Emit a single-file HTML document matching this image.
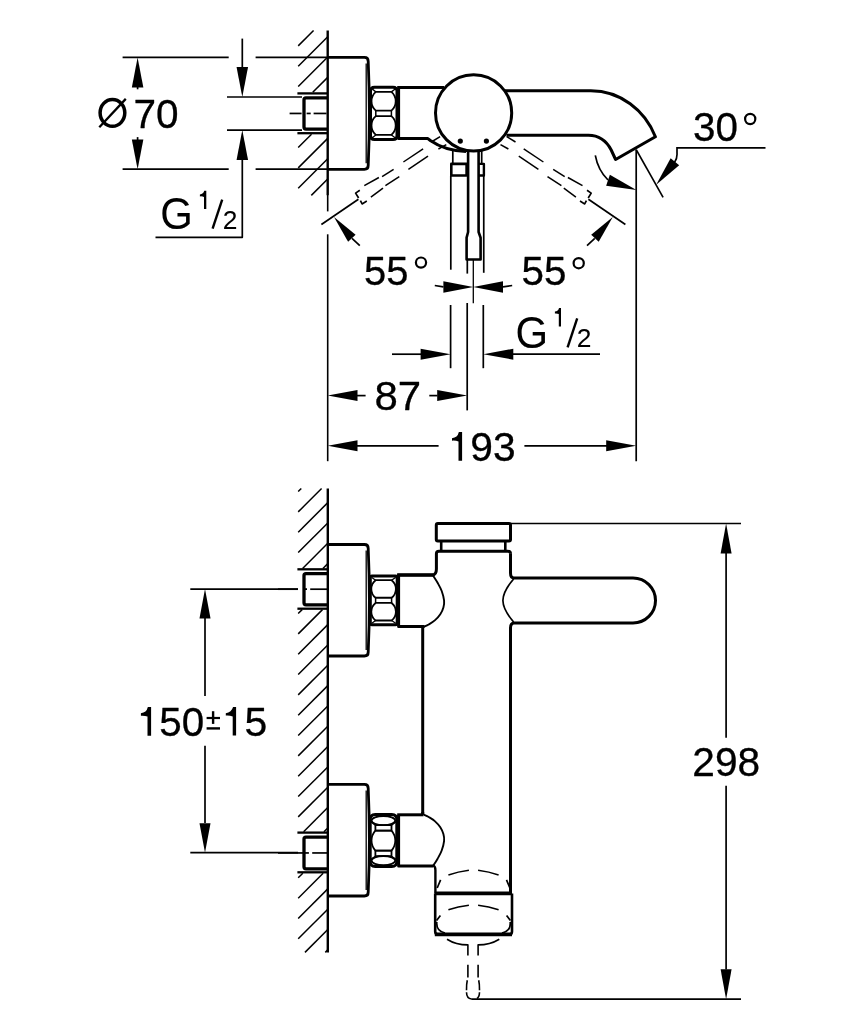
<!DOCTYPE html>
<html><head><meta charset="utf-8"><style>
html,body{margin:0;padding:0;background:#fff;width:854px;height:1024px;overflow:hidden}
svg{display:block;will-change:transform}
svg text{font-family:"Liberation Sans",sans-serif}
</style></head><body>
<svg width="854" height="1024" viewBox="0 0 854 1024">
<rect width="854" height="1024" fill="#fff"/>
<g stroke="#000" fill="none" stroke-linejoin="round">
<line x1="327.7" y1="30.5" x2="327.7" y2="195.2" stroke-width="2.4" />
<line x1="327.7" y1="195" x2="327.7" y2="211.4" stroke-width="1.6" />
<line x1="327.7" y1="234.3" x2="327.7" y2="461.2" stroke-width="1.6" />
<line x1="298.2" y1="45.87" x2="313.57" y2="30.5" stroke-width="1.5" />
<line x1="298.2" y1="66.2" x2="327.7" y2="36.7" stroke-width="1.5" />
<line x1="298.2" y1="86.53" x2="327.7" y2="57.03" stroke-width="1.5" />
<line x1="312.76" y1="92.3" x2="327.7" y2="77.36" stroke-width="1.5" />
<line x1="298.2" y1="147.52" x2="311.52" y2="134.2" stroke-width="1.5" />
<line x1="298.2" y1="167.85" x2="327.7" y2="138.35" stroke-width="1.5" />
<line x1="298.2" y1="188.18" x2="327.7" y2="158.68" stroke-width="1.5" />
<line x1="311.31" y1="195.4" x2="327.7" y2="179.01" stroke-width="1.5" />
<line x1="297.4" y1="93.4" x2="327.7" y2="93.4" stroke-width="2.3" />
<line x1="297.4" y1="133.2" x2="327.7" y2="133.2" stroke-width="2.3" />
<path d="M327.7,97.8 H306 Q304,97.8 304,99.8 V127.1 Q304,129.1 306,129.1 H327.7" stroke-width="3.3" />
<line x1="289.6" y1="113.45" x2="301.6" y2="113.45" stroke-width="1.7" />
<line x1="306.6" y1="113.45" x2="310.7" y2="113.45" stroke-width="1.7" />
<line x1="313.6" y1="113.45" x2="326.5" y2="113.45" stroke-width="1.7" />
<path d="M327.7,57.4 H364.4 Q368.2,57.4 368.2,61.199999999999996 Q370.6,113.35000000000001 368.2,165.5 Q368.2,169.3 364.4,169.3 H327.7" stroke-width="2.8" />
<line x1="366.2" y1="63.4" x2="366.2" y2="163.3" stroke-width="1.3" />
<path d="M375.80,91.87 H391.40 A12.36,12.36 0 0 1 391.40,110.62 H375.80 A12.36,12.36 0 0 1 375.80,91.87 Z" stroke-width="1.8" />
<path d="M375.80,116.18 H391.40 A12.36,12.36 0 0 1 391.40,134.93 H375.80 A12.36,12.36 0 0 1 375.80,116.18 Z" stroke-width="1.8" />
<line x1="375.8" y1="110.62" x2="375.8" y2="116.18" stroke-width="1.5" />
<line x1="391.4" y1="110.62" x2="391.4" y2="116.18" stroke-width="1.5" />
<line x1="372" y1="88.8" x2="375.8" y2="91.87" stroke-width="1.3" />
<line x1="395.5" y1="88.8" x2="391.4" y2="91.87" stroke-width="1.3" />
<line x1="372" y1="138" x2="375.8" y2="134.93" stroke-width="1.3" />
<line x1="395.5" y1="138" x2="391.4" y2="134.93" stroke-width="1.3" />
<path d="M374.5,87.3 H393 Q397,87.3 397,91.3 V135.5 Q397,139.5 393,139.5 H374.5 Q370.5,139.5 370.5,135.5 V91.3 Q370.5,87.3 374.5,87.3 Z" stroke-width="3" />
<path d="M398.6,87.4 V138.6 H427.9 L430.3,140.5 Q445,150.7 466,151.5" stroke-width="3" />
<line x1="397.2" y1="87.4" x2="444" y2="87.4" stroke-width="3" />
<circle cx="473.6" cy="112.9" r="38.1" stroke-width="3"/>
<circle cx="460.3" cy="141.1" r="2.6" fill="#000" stroke="none"/>
<circle cx="486.4" cy="141.1" r="2.6" fill="#000" stroke="none"/>
<path d="M504,90.8 H590.8 C620,90.8 645,110 655.4,136.8 L615.6,159.5 L611.2,150 C607,142 600,135.3 588.4,135.3 H506.5" stroke-width="3" />
<line x1="452.8" y1="150" x2="452.8" y2="163" stroke-width="1.7" />
<path d="M451.3,163.9 H466.6 V175.5 H451.3 Z" stroke-width="2.6" />
<line x1="450.8" y1="176" x2="450.8" y2="269.7" stroke-width="1.7" />
<path d="M468.1,151.5 V232 L466.6,237.7 V259.5 H480.6 V237.7 L478.6,232 V151.5" stroke-width="2.6" />
<line x1="481.7" y1="151" x2="481.7" y2="163" stroke-width="1.7" />
<path d="M478.6,163.9 H483.9 V175.5 H478.6" stroke-width="2.4" />
<line x1="483.75" y1="176" x2="483.75" y2="272.8" stroke-width="1.7" />
<line x1="467.3" y1="259.5" x2="467.3" y2="273.6" stroke-width="1.7" />
<line x1="473.3" y1="259.5" x2="473.3" y2="303.2" stroke-width="1.3" />
<line x1="434.8" y1="285.5" x2="443.4" y2="286.9" stroke-width="1.7" />
<polygon points="473.3,286.9 443.4,281.15 443.4,292.65" fill="#000" stroke="none"/>
<polygon points="473.3,286.9 503,292.65 503,281.15" fill="#000" stroke="none"/>
<line x1="503" y1="286.9" x2="512.2" y2="285.5" stroke-width="1.7" />
<line x1="450.6" y1="305" x2="450.6" y2="368.2" stroke-width="1.7" />
<line x1="483.3" y1="305" x2="483.3" y2="368.2" stroke-width="1.7" />
<line x1="467.2" y1="303" x2="467.2" y2="410.4" stroke-width="1.7" />
<line x1="392" y1="354.2" x2="421" y2="354.2" stroke-width="1.7" />
<polygon points="450.6,354.2 420.6,348.7 420.6,359.7" fill="#000" stroke="none"/>
<polygon points="483.3,354.2 513.3,359.7 513.3,348.7" fill="#000" stroke="none"/>
<line x1="513" y1="354.2" x2="600" y2="354.2" stroke-width="1.7" />
<polygon points="327.7,395.6 357.5,401.1 357.5,390.1" fill="#000" stroke="none"/>
<line x1="357" y1="395.6" x2="365.6" y2="395.6" stroke-width="1.7" />
<line x1="429.3" y1="395.6" x2="437.5" y2="395.6" stroke-width="1.7" />
<polygon points="467.2,395.6 437.2,390.1 437.2,401.1" fill="#000" stroke="none"/>
<polygon points="327.7,445.8 357.5,451.3 357.5,440.3" fill="#000" stroke="none"/>
<line x1="357" y1="445.8" x2="438.6" y2="445.8" stroke-width="1.7" />
<line x1="524.4" y1="445.8" x2="607" y2="445.8" stroke-width="1.7" />
<polygon points="636.2,445.8 606.2,440.3 606.2,451.3" fill="#000" stroke="none"/>
<line x1="636.2" y1="149.7" x2="636.2" y2="461.2" stroke-width="1.7" />
<line x1="636.2" y1="149.7" x2="663.1" y2="197.3" stroke-width="1.7" />
<polygon points="656.2,184.7 679.17,165.17 670.63,158.23" fill="#000" stroke="none"/>
<path d="M674.6,162.2 Q677.4,158.5 677,153 V147.8 H765.5" stroke-width="1.7" stroke-linejoin="miter"/>
<path d="M595.3,155.3 Q598,170 608,180" stroke-width="1.7" />
<polygon points="636.4,189.9 609.86,174.76 606.14,185.64" fill="#000" stroke="none"/>
<line x1="122.6" y1="57.4" x2="228.7" y2="57.4" stroke-width="1.7" />
<line x1="255.6" y1="57.4" x2="327.7" y2="57.4" stroke-width="1.7" />
<line x1="122.6" y1="169.2" x2="228.7" y2="169.2" stroke-width="1.7" />
<line x1="255.6" y1="169.2" x2="327.7" y2="169.2" stroke-width="1.7" />
<polygon points="137.6,57.4 131.85,87.4 143.35,87.4" fill="#000" stroke="none"/>
<line x1="137.6" y1="87" x2="137.6" y2="89.3" stroke-width="1.7" />
<polygon points="137.6,169.2 143.35,139.6 131.85,139.6" fill="#000" stroke="none"/>
<line x1="137.6" y1="137.1" x2="137.6" y2="140" stroke-width="1.7" />
<line x1="242.3" y1="38.6" x2="242.3" y2="67.5" stroke-width="1.7" />
<polygon points="242.3,97 248.05,67 236.55,67" fill="#000" stroke="none"/>
<line x1="227" y1="97" x2="302" y2="97" stroke-width="1.7" />
<line x1="227" y1="130.1" x2="302" y2="130.1" stroke-width="1.7" />
<polygon points="242.3,130.1 236.55,160.1 248.05,160.1" fill="#000" stroke="none"/>
<path d="M242.3,159 V237.3 H155.5" stroke-width="1.7" />
<g><line x1="423.1" y1="148.9" x2="403.4" y2="162" stroke-width="1.5"/><line x1="393.6" y1="169.3" x2="382.1" y2="176.7" stroke-width="1.5"/><line x1="378.9" y1="177.5" x2="364.3" y2="185.6" stroke-width="1.5"/><line x1="428" y1="156.2" x2="408.4" y2="169.3" stroke-width="1.5"/><line x1="399.3" y1="176.7" x2="385.4" y2="185.7" stroke-width="1.5"/><line x1="383" y1="188.2" x2="370.9" y2="197.1" stroke-width="1.5"/><line x1="440.1" y1="136.7" x2="431.3" y2="142" stroke-width="1.5"/><line x1="446.3" y1="144.6" x2="438.4" y2="149" stroke-width="1.5"/><path d="M359.8,190.3 L355.6,193.1 L358.6,198 M360.4,200.6 L362.1,203.9 L366.8,201.1" stroke-width="1.7"/><line x1="321.4" y1="224.5" x2="358.4" y2="199.2" stroke-width="1.7"/><polygon points="334,217 348.1,241.8 355.6,234.8" fill="#000" stroke="none"/><line x1="352" y1="238.3" x2="359.8" y2="245.6" stroke-width="1.7"/></g>
<g transform="translate(946.8,0) scale(-1,1)"><line x1="423.1" y1="148.9" x2="403.4" y2="162" stroke-width="1.5"/><line x1="393.6" y1="169.3" x2="382.1" y2="176.7" stroke-width="1.5"/><line x1="378.9" y1="177.5" x2="364.3" y2="185.6" stroke-width="1.5"/><line x1="428" y1="156.2" x2="408.4" y2="169.3" stroke-width="1.5"/><line x1="399.3" y1="176.7" x2="385.4" y2="185.7" stroke-width="1.5"/><line x1="383" y1="188.2" x2="370.9" y2="197.1" stroke-width="1.5"/><line x1="440.1" y1="136.7" x2="431.3" y2="142" stroke-width="1.5"/><line x1="446.3" y1="144.6" x2="438.4" y2="149" stroke-width="1.5"/><path d="M359.8,190.3 L355.6,193.1 L358.6,198 M360.4,200.6 L362.1,203.9 L366.8,201.1" stroke-width="1.7"/><line x1="321.4" y1="224.5" x2="358.4" y2="199.2" stroke-width="1.7"/><polygon points="334,217 348.1,241.8 355.6,234.8" fill="#000" stroke="none"/><line x1="352" y1="238.3" x2="359.8" y2="245.6" stroke-width="1.7"/></g>
<line x1="327.8" y1="488.5" x2="327.8" y2="952.4" stroke-width="2.4" />
<line x1="298.2" y1="491.57" x2="301.27" y2="488.5" stroke-width="1.5" />
<line x1="298.2" y1="511.9" x2="321.6" y2="488.5" stroke-width="1.5" />
<line x1="298.2" y1="532.23" x2="327.8" y2="502.63" stroke-width="1.5" />
<line x1="298.2" y1="552.56" x2="327.8" y2="522.96" stroke-width="1.5" />
<line x1="302.59" y1="568.5" x2="327.8" y2="543.29" stroke-width="1.5" />
<line x1="322.92" y1="568.5" x2="327.8" y2="563.62" stroke-width="1.5" />
<line x1="298.2" y1="613.55" x2="302.15" y2="609.6" stroke-width="1.5" />
<line x1="298.2" y1="633.88" x2="322.48" y2="609.6" stroke-width="1.5" />
<line x1="298.2" y1="654.21" x2="327.8" y2="624.61" stroke-width="1.5" />
<line x1="298.2" y1="674.54" x2="327.8" y2="644.94" stroke-width="1.5" />
<line x1="298.2" y1="694.87" x2="327.8" y2="665.27" stroke-width="1.5" />
<line x1="298.2" y1="715.2" x2="327.8" y2="685.6" stroke-width="1.5" />
<line x1="298.2" y1="735.53" x2="327.8" y2="705.93" stroke-width="1.5" />
<line x1="298.2" y1="755.86" x2="327.8" y2="726.26" stroke-width="1.5" />
<line x1="298.2" y1="776.19" x2="327.8" y2="746.59" stroke-width="1.5" />
<line x1="298.2" y1="796.52" x2="327.8" y2="766.92" stroke-width="1.5" />
<line x1="298.2" y1="816.85" x2="327.8" y2="787.25" stroke-width="1.5" />
<line x1="303.58" y1="831.8" x2="327.8" y2="807.58" stroke-width="1.5" />
<line x1="323.91" y1="831.8" x2="327.8" y2="827.91" stroke-width="1.5" />
<line x1="298.2" y1="877.84" x2="302.84" y2="873.2" stroke-width="1.5" />
<line x1="298.2" y1="898.17" x2="323.17" y2="873.2" stroke-width="1.5" />
<line x1="298.2" y1="918.5" x2="327.8" y2="888.9" stroke-width="1.5" />
<line x1="298.2" y1="938.83" x2="327.8" y2="909.23" stroke-width="1.5" />
<line x1="304.96" y1="952.4" x2="327.8" y2="929.56" stroke-width="1.5" />
<line x1="325.29" y1="952.4" x2="327.8" y2="949.89" stroke-width="1.5" />
<line x1="297.4" y1="569.3" x2="327.8" y2="569.3" stroke-width="2.3" />
<line x1="297.4" y1="608.7" x2="327.8" y2="608.7" stroke-width="2.3" />
<path d="M327.8,573.6 H306 Q304,573.6 304,575.6 V602.8 Q304,604.8 306,604.8 H327.8" stroke-width="3.3" />
<line x1="278" y1="589.2" x2="298" y2="589.2" stroke-width="1.7" />
<line x1="305" y1="589.2" x2="307" y2="589.2" stroke-width="1.7" />
<line x1="310.2" y1="589.2" x2="327" y2="589.2" stroke-width="1.7" />
<line x1="297.4" y1="832.6" x2="327.8" y2="832.6" stroke-width="2.3" />
<line x1="297.4" y1="872.3" x2="327.8" y2="872.3" stroke-width="2.3" />
<path d="M327.8,837.1 H306 Q304,837.1 304,839.1 V866.8 Q304,868.8 306,868.8 H327.8" stroke-width="3.3" />
<line x1="278" y1="852.95" x2="308.9" y2="852.95" stroke-width="1.7" />
<line x1="312.2" y1="852.95" x2="327" y2="852.95" stroke-width="1.7" />
<path d="M327.8,544.5 H364.4 Q368.2,544.5 368.2,548.3 Q370.6,600.25 368.2,652.2 Q368.2,656 364.4,656 H327.8" stroke-width="2.8" />
<line x1="366.2" y1="550.5" x2="366.2" y2="650" stroke-width="1.3" />
<path d="M327.8,784.4 H364.4 Q368.2,784.4 368.2,788.1999999999999 Q370.6,840.2 368.2,892.2 Q368.2,896 364.4,896 H327.8" stroke-width="2.8" />
<line x1="366.2" y1="790.4" x2="366.2" y2="890" stroke-width="1.3" />
<path d="M375.60,580.18 H391.60 A11.11,11.11 0 0 1 391.60,597.74 H375.60 A11.11,11.11 0 0 1 375.60,580.18 Z" stroke-width="1.8" />
<path d="M375.60,602.96 H391.60 A11.11,11.11 0 0 1 391.60,620.52 H375.60 A11.11,11.11 0 0 1 375.60,602.96 Z" stroke-width="1.8" />
<line x1="375.6" y1="597.74" x2="375.6" y2="602.96" stroke-width="1.5" />
<line x1="391.6" y1="597.74" x2="391.6" y2="602.96" stroke-width="1.5" />
<line x1="371.8" y1="577.4" x2="375.6" y2="580.18" stroke-width="1.3" />
<line x1="395.7" y1="577.4" x2="391.6" y2="580.18" stroke-width="1.3" />
<line x1="371.8" y1="623.3" x2="375.6" y2="620.52" stroke-width="1.3" />
<line x1="395.7" y1="623.3" x2="391.6" y2="620.52" stroke-width="1.3" />
<path d="M372.0,575.9 H395.5 Q397.2,575.9 397.2,577.6 V623.0999999999999 Q397.2,624.8 395.5,624.8 H372.0 Q370.3,624.8 370.3,623.0999999999999 V577.6 Q370.3,575.9 372.0,575.9 Z" stroke-width="3" />
<ellipse cx="383.4" cy="820.6" rx="11.8" ry="4.6" stroke-width="1.8"/>
<ellipse cx="383.4" cy="860.6" rx="11.8" ry="4.6" stroke-width="1.8"/>
<path d="M375.4,825.2 H391.5 V830.6 H375.4 Z M375.4,850.6 H391.5 V856.2 H375.4 Z" stroke-width="1.8" />
<path d="M375.4,830.6 H391.5 A15.06,15.06 0 0 1 391.5,850.6 H375.4 A14.77,14.77 0 0 1 375.4,830.6" stroke-width="1.8" />
<path d="M375.4,825.2 L371,822 M391.5,825.2 L395.9,822 M375.4,856.2 L371,859.4 M391.5,856.2 L395.9,859.4" stroke-width="1.4" />
<path d="M370.2,819.6 Q370.2,814.6 375.2,814.6 H391.8 Q396.8,814.6 396.8,819.6 V861.4 Q396.8,866.4 391.8,866.4 H375.2 Q370.2,866.4 370.2,861.4 Z" stroke-width="3" />
<path d="M398.6,575.2 V626.4 H424.5" stroke-width="3" />
<path d="M433.1,575.6 C433.85,576.80 436.17,580.23 437.60,582.80 C439.03,585.37 440.62,588.03 441.70,591.00 C442.78,593.97 443.82,597.87 444.10,600.60 C444.38,603.33 444.03,605.13 443.40,607.40 C442.77,609.67 441.73,612.03 440.30,614.20 C438.87,616.37 436.73,618.68 434.80,620.40 C432.87,622.12 430.52,623.42 428.70,624.50 C426.88,625.58 424.70,626.50 423.90,626.90" stroke-width="1.9" />
<path d="M397.2,575.2 H432.5 Q436.4,574.5 436.4,569 V553.8 Q436.4,551.3 438.9,551.3 H508 Q510.5,551.3 510.5,553.8" stroke-width="3" />
<line x1="397.2" y1="574.8" x2="433.5" y2="574.8" stroke-width="3" />
<path d="M437.8,523.5 H509 Q510.5,523.5 510.5,525 V539.5 Q510.5,541 509,541 H437.8 Q436.3,541 436.3,539.5 V525 Q436.3,523.5 437.8,523.5 Z" stroke-width="3" />
<path d="M441.2,541 V551.3 M505.3,541 V551.3" stroke-width="2.6" />
<line x1="510.5" y1="523.5" x2="741" y2="523.5" stroke-width="1.7" />
<path d="M510.5,553.5 V573 Q510.5,578 514,578 H633 A22.5,22.5 0 0 1 633,623 H514 Q510.5,623 510.5,628 V893.4" stroke-width="3" />
<path d="M513.6,579 C508.5,585 503,593 502.9,600.5 C503,608 508.5,616 513.6,622" stroke-width="1.7" />
<line x1="422.7" y1="626.2" x2="422.7" y2="814.8" stroke-width="3" />
<path d="M397.2,814.8 H423.5" stroke-width="3" />
<path d="M433.1,865.9 C433.85,864.70 436.17,861.27 437.60,858.70 C439.03,856.13 440.62,853.47 441.70,850.50 C442.78,847.53 443.82,843.63 444.10,840.90 C444.38,838.17 444.03,836.37 443.40,834.10 C442.77,831.83 441.73,829.47 440.30,827.30 C438.87,825.13 436.73,822.82 434.80,821.10 C432.87,819.38 430.52,818.08 428.70,817.00 C426.88,815.92 424.70,815.00 423.90,814.60" stroke-width="1.9" />
<path d="M433,865.9 H398.6 V814.8" stroke-width="3" />
<path d="M422.7,814.8 V812" stroke-width="3" />
<path d="M433.3,865.7 Q435.4,866.5 435.4,870 V893.4" stroke-width="2.4" />
<line x1="434.8" y1="893.4" x2="512" y2="893.4" stroke-width="3.6" />
<path d="M435.2,893.4 V931.5 Q435.2,934.4 438,934.4 H509.5 Q512,934.4 512,931.5 V893.4" stroke-width="2.6" />
<line x1="434.8" y1="934.4" x2="512" y2="934.4" stroke-width="3.6" />
<path d="M448.4,874.9 Q458,871.6 468.9,870.2 M478.1,870.2 Q489,871.6 498.6,874.9" stroke-width="1.6" />
<path d="M437.2,888 L440.6,879.8 M506.5,879.8 L509.9,888" stroke-width="1.7" />
<path d="M448.4,909.8 Q458,906.6 468.9,905.3 M478.1,905.3 Q489,906.6 498.6,909.8" stroke-width="1.6" />
<path d="M436.6,920.5 L440.4,915.5 M506.6,915.5 L510.4,920.5" stroke-width="1.7" />
<path d="M436.8,922 Q436,931 445,933 M510.2,922 Q511,931 502,933" stroke-width="1.7" />
<path d="M447,939.2 Q456,944.9 467.9,944.9 V955.5 M478.1,955.5 V944.9 Q490,944.9 499.3,939.2" stroke-width="1.6" />
<path d="M467.9,964.7 V977.4 M478.1,964.7 V977.4" stroke-width="1.6" />
<path d="M467.3,980.3 Q466.4,984 466.5,990.2 M478.7,980.3 Q479.6,984 479.5,990.2" stroke-width="1.6" />
<path d="M466.5,992.3 Q466.6,998.5 471.5,999 M479.5,992.3 Q479.4,997 477,998.5" stroke-width="1.6" />
<line x1="471.3" y1="999.2" x2="741" y2="999.2" stroke-width="1.7" />
<polygon points="726.1,523.5 720.6,553.5 731.6,553.5" fill="#000" stroke="none"/>
<line x1="726.1" y1="553" x2="726.1" y2="737.8" stroke-width="1.7" />
<line x1="726.1" y1="785.7" x2="726.1" y2="969.5" stroke-width="1.7" />
<polygon points="726.1,999.2 731.6,969.2 720.6,969.2" fill="#000" stroke="none"/>
<line x1="190.3" y1="589.1" x2="298" y2="589.1" stroke-width="1.7" />
<line x1="190.3" y1="852.7" x2="298" y2="852.7" stroke-width="1.7" />
<polygon points="205,589.1 199.5,618.6 210.5,618.6" fill="#000" stroke="none"/>
<line x1="205" y1="618" x2="205" y2="696" stroke-width="1.7" />
<line x1="205" y1="745.8" x2="205" y2="823" stroke-width="1.7" />
<polygon points="205,852.7 210.5,823.2 199.5,823.2" fill="#000" stroke="none"/>
<ellipse cx="112.45" cy="112.85" rx="12.35" ry="13.4" stroke-width="3.5"/>
<line x1="99.3" y1="127.2" x2="125.8" y2="98.9" stroke-width="2.3" />
<text transform="matrix(40.5537 0 0 40.8962 133.52 128.04)" font-size="1" fill="#000" stroke="#000" stroke-width="0.0073">70</text>
<text transform="matrix(41.8622 0 0 43.9387 160.33 228.84)" font-size="1" fill="#000" stroke="#000" stroke-width="0.0011">G</text>
<path d="M204.00,190.80 H206.30 V208.90 H204.00 V196.94 Q202.46,196.20 199.90,196.40 V194.40 Q203.42,194.11 204.23,190.80 Z" fill="#000" stroke="none"/>
<line x1="212.6" y1="228.6" x2="222.2" y2="199.6" stroke-width="2.4" />
<text transform="matrix(26.3869 0 0 26.3397 222.71 228.67)" font-size="1" fill="#000" stroke="#000" stroke-width="0.0019">2</text>
<text transform="matrix(40.0000 0 0 41.0000 364.05 284.54)" font-size="1" fill="#000" stroke="#000" stroke-width="0.0073">55</text>
<text transform="matrix(40.3883 0 0 41.2857 521.43 284.74)" font-size="1" fill="#000" stroke="#000" stroke-width="0.0073">55</text>
<text transform="matrix(41.8622 0 0 43.9387 515.53 347.54)" font-size="1" fill="#000" stroke="#000" stroke-width="0.0011">G</text>
<path d="M558.80,307.90 H561.00 V326.50 H558.80 V314.06 Q557.34,313.30 554.90,313.50 V311.50 Q558.25,311.21 559.02,307.90 Z" fill="#000" stroke="none"/>
<line x1="567.6" y1="347.3" x2="577.2" y2="318.3" stroke-width="2.4" />
<text transform="matrix(26.3869 0 0 26.3397 576.71 347.38)" font-size="1" fill="#000" stroke="#000" stroke-width="0.0019">2</text>
<text transform="matrix(41.9608 0 0 40.6132 374.43 410.44)" font-size="1" fill="#000" stroke="#000" stroke-width="0.0074">87</text>
<path d="M458.50,432.00 H462.10 V460.80 H458.50 V441.50 Q456.04,440.44 452.00,440.64 V438.19 Q457.56,437.70 458.86,432.00 Z" fill="#000" stroke="none"/>
<text transform="matrix(40.7843 0 0 40.7547 470.25 460.54)" font-size="1" fill="#000" stroke="#000" stroke-width="0.0074">93</text>
<text transform="matrix(40.4516 0 0 41.3208 692.93 140.94)" font-size="1" fill="#000" stroke="#000" stroke-width="0.0073">30</text>
<path d="M147.50,707.10 H151.10 V735.80 H147.50 V716.57 Q144.98,715.51 140.90,715.71 V713.27 Q146.51,712.78 147.86,707.10 Z" fill="#000" stroke="none"/>
<text transform="matrix(40.3548 0 0 41.3208 159.34 735.64)" font-size="1" fill="#000" stroke="#000" stroke-width="0.0073">50</text>
<path d="M232.70,707.10 H236.10 V735.40 H232.70 V716.44 Q229.92,715.39 225.80,715.59 V713.18 Q231.47,712.70 233.04,707.10 Z" fill="#000" stroke="none"/>
<text transform="matrix(40.9859 0 0 40.5714 244.41 735.64)" font-size="1" fill="#000" stroke="#000" stroke-width="0.0074">5</text>
<text transform="matrix(40.6780 0 0 39.9057 692.32 775.95)" font-size="1" fill="#000" stroke="#000" stroke-width="0.0075">298</text>
<line x1="213.1" y1="711.2" x2="213.1" y2="723.9" stroke-width="2.4" />
<line x1="206.6" y1="718" x2="220" y2="718" stroke-width="2.2" />
<line x1="206.6" y1="728.4" x2="220" y2="728.4" stroke-width="2.4" />
<circle cx="421" cy="262.6" r="5.1" stroke-width="2.2"/>
<circle cx="578.7" cy="263.2" r="5.1" stroke-width="2.2"/>
<circle cx="750.2" cy="119" r="5.1" stroke-width="2.2"/>
</g>
</svg></body></html>
